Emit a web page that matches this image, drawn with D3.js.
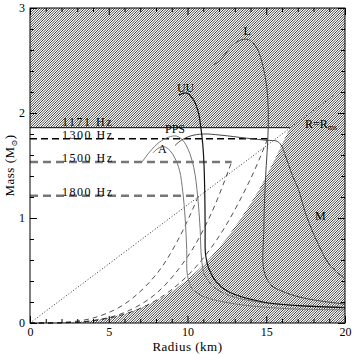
<!DOCTYPE html>
<html>
<head>
<meta charset="utf-8">
<script src="https://cdn.jsdelivr.net/npm/d3@7"></script>
<style>
body { margin: 0; background: #fff; }
svg text { font-family: "Liberation Serif", "DejaVu Serif", serif; fill: #000; }
</style>
</head>
<body>
<script>
//
// AXIS TICKS
const RADIUS_TICKS = [ 0, 5, 10, 15, 20 ];
const MASS_TICKS = [ 0, 1, 2, 3 ];
//
// SPIN FREQUENCY LIMITS (horizontal lines)
const FREQ_LABELS = [ '1171 Hz', '1300 Hz', '1500 Hz', '1800 Hz' ];
const FREQ_MASS = [ 1.86, 1.755, 1.533, 1.212 ];
const FREQ_RADIUS_END = [ 16.5, 15.09, 12.8, 10.7 ];
//
// KEPLER CURVES (radius km, mass Msun)
const KEP_1171_R = [ 0, 2, 4, 6, 8, 10, 12, 14, 15, 16.5 ];
const KEP_1171_M = [ 0, 0.003, 0.027, 0.089, 0.212, 0.414, 0.716, 1.136, 1.397, 1.86 ];
const KEP_1300_R = [ 0, 2, 4, 6, 8, 10, 12, 14, 15.09 ];
const KEP_1300_M = [ 0, 0.002, 0.022, 0.084, 0.216, 0.45, 0.824, 1.371, 1.755 ];
const KEP_1500_R = [ 0, 2, 4, 6, 8, 10, 11.5, 12.8 ];
const KEP_1500_M = [ 0, 0.002, 0.023, 0.1, 0.28, 0.63, 1.04, 1.533 ];
const KEP_1800_R = [ 0, 2, 4, 6, 8, 9.5, 10.7 ];
const KEP_1800_M = [ 0, 0.005, 0.047, 0.18, 0.46, 0.82, 1.212 ];
//
// R = R_ms LINE
const RMS_R = [ 0, 19.3 ];
const RMS_M = [ 0, 2.17 ];
//
// EQUATIONS OF STATE
const EOS_A_R = [ 7.8, 8.1, 8.5, 8.9, 9.2, 9.5, 9.7, 9.85, 9.95, 10.0, 10.3, 10.9, 12.7, 15.9, 20 ];
const EOS_A_M = [ 1.62, 1.66, 1.68, 1.64, 1.57, 1.45, 1.25, 1.0, 0.7, 0.45, 0.33, 0.26, 0.19, 0.14, 0.125 ];
const EOS_PPS_R = [ 7.1, 7.6, 8.2, 8.8, 9.3, 9.7, 10.05, 10.4, 10.65, 10.8, 10.9, 11.1, 11.7, 12.7, 15, 20 ];
const EOS_PPS_M = [ 1.53, 1.63, 1.72, 1.77, 1.78, 1.74, 1.65, 1.48, 1.2, 0.9, 0.6, 0.45, 0.34, 0.26, 0.19, 0.15 ];
const EOS_UU_R = [ 9.45, 9.95, 10.37, 10.7, 10.84, 10.97, 11.05, 11.1, 11.12, 11.15, 11.4, 11.9, 12.7, 14.8, 17, 20 ];
const EOS_UU_M = [ 2.17, 2.19, 2.13, 2.0, 1.87, 1.7, 1.5, 1.2, 0.9, 0.65, 0.5, 0.38, 0.29, 0.2, 0.165, 0.145 ];
const EOS_L_R = [ 11.64, 12.0, 12.3, 12.75, 13.3, 13.86, 14.4, 14.8, 15.03, 15.13, 15.1, 15.0, 14.9, 14.85, 14.85, 15.3, 15.9, 16.8, 18, 20 ];
const EOS_L_M = [ 2.46, 2.49, 2.54, 2.63, 2.69, 2.7, 2.62, 2.44, 2.25, 2.0, 1.75, 1.5, 1.2, 0.9, 0.5, 0.36, 0.31, 0.26, 0.22, 0.18 ];
const EOS_M_R = [ 9.2, 9.6, 10.16, 11.0, 12.06, 13.76, 15.03, 15.7, 16.0, 16.2, 16.7, 17.0, 17.6, 18.4, 19.0, 20 ];
const EOS_M_M = [ 1.69, 1.74, 1.78, 1.8, 1.79, 1.76, 1.74, 1.73, 1.68, 1.6, 1.39, 1.29, 1.0, 0.72, 0.56, 0.42 ];

window.addEventListener( 'load', function () {
    //
    // SET SIZE
    const WIDTH = 354;
    const HEIGHT = 354;
    const LEFT = 30, RIGHT = 345, TOP = 8, BOTTOM = 323;
    const HATCH_STEP = 2.5;

    const x = d3.scaleLinear().domain( [ 0, 20 ] ).range( [ LEFT, RIGHT ] );
    const y = d3.scaleLinear().domain( [ 0, 3 ] ).range( [ BOTTOM, TOP ] );

    function pts( rs, ms ) {
        return rs.map( function ( r, i ) { return [ r, ms[ i ] ]; } );
    }
    const line = d3.line()
        .x( function ( d ) { return x( d[ 0 ] ); } )
        .y( function ( d ) { return y( d[ 1 ] ); } );
    const smooth = d3.line()
        .x( function ( d ) { return x( d[ 0 ] ); } )
        .y( function ( d ) { return y( d[ 1 ] ); } )
        .curve( d3.curveCatmullRom.alpha( 0.5 ) );

    const svg = d3.select( 'body' )
        .append( 'svg' )
        .attr( 'width', WIDTH )
        .attr( 'height', HEIGHT );
    svg.append( 'defs' )
        .append( 'clipPath' )
        .attr( 'id', 'plotclip' )
        .append( 'rect' )
        .attr( 'x', LEFT ).attr( 'y', TOP )
        .attr( 'width', RIGHT - LEFT ).attr( 'height', BOTTOM - TOP );
    //
    // HATCHING: diagonal lines over the whole plot, allowed region painted white on top
    const H = BOTTOM - TOP;
    const offsets = d3.range( LEFT - H, RIGHT + HATCH_STEP, HATCH_STEP );
    svg.append( 'g' )
        .attr( 'clip-path', 'url(#plotclip)' )
        .selectAll( 'line' )
        .data( offsets )
        .enter()
        .append( 'line' )
        .attr( 'x1', function ( d ) { return d; } )
        .attr( 'y1', BOTTOM )
        .attr( 'x2', function ( d ) { return d + H; } )
        .attr( 'y2', TOP )
        .attr( 'stroke', '#222' )
        .attr( 'stroke-width', 0.85 );
    //
    // ALLOWED (WHITE) REGION
    svg.append( 'path' )
        .attr( 'd', smooth( pts( KEP_1171_R, KEP_1171_M ) ) + 'L' + x( 0 ) + ',' + y( FREQ_MASS[ 0 ] ) + 'Z' )
        .attr( 'fill', '#fff' );
    svg.append( 'path' )
        .attr( 'd', line( [ [ 0, FREQ_MASS[ 0 ] ], [ FREQ_RADIUS_END[ 0 ], FREQ_MASS[ 0 ] ] ] ) )
        .attr( 'stroke', '#000' ).attr( 'stroke-width', 1 ).attr( 'fill', 'none' );
    //
    // R = R_ms
    svg.append( 'path' )
        .attr( 'd', line( pts( RMS_R, RMS_M ) ) )
        .attr( 'stroke', '#333' ).attr( 'stroke-width', 1 )
        .attr( 'stroke-dasharray', '1,2' ).attr( 'fill', 'none' );
    //
    // KEPLER DASHED CURVES
    [ [ KEP_1300_R, KEP_1300_M ], [ KEP_1500_R, KEP_1500_M ], [ KEP_1800_R, KEP_1800_M ] ].forEach( function ( k ) {
        svg.append( 'path' )
            .attr( 'd', smooth( pts( k[ 0 ], k[ 1 ] ) ) )
            .attr( 'stroke', '#222' ).attr( 'stroke-width', 0.8 )
            .attr( 'stroke-dasharray', '5,4' ).attr( 'fill', 'none' );
    });
    //
    // FREQUENCY LINES
    const freqStyle = [ null, [ '#000', 1.5, '7,4' ], [ '#777', 2.5, '8,5' ], [ '#777', 2.5, '8,5' ] ];
    for ( let i = 1; i < FREQ_MASS.length; i++ ) {
        svg.append( 'path' )
            .attr( 'd', line( [ [ 0, FREQ_MASS[ i ] ], [ FREQ_RADIUS_END[ i ], FREQ_MASS[ i ] ] ] ) )
            .attr( 'stroke', freqStyle[ i ][ 0 ] ).attr( 'stroke-width', freqStyle[ i ][ 1 ] )
            .attr( 'stroke-dasharray', freqStyle[ i ][ 2 ] ).attr( 'fill', 'none' );
    }
    svg.selectAll( 'text.freq' )
        .data( FREQ_LABELS )
        .enter()
        .append( 'text' )
        .classed( 'freq', true )
        .attr( 'x', x( 2.03 ) )
        .attr( 'y', function ( d, i ) { return y( FREQ_MASS[ i ] ) - ( i === 0 ? 2 : 0 ); } )
        .attr( 'font-size', 12 )
        .attr( 'letter-spacing', 1.5 )
        .text( function ( d ) { return d; } );
    //
    // EOS CURVES
    const eos = [
        [ EOS_A_R, EOS_A_M, '#777', 1 ],
        [ EOS_PPS_R, EOS_PPS_M, '#777', 1 ],
        [ EOS_M_R, EOS_M_M, '#444', 1 ],
        [ EOS_L_R, EOS_L_M, '#444', 1 ],
        [ EOS_UU_R, EOS_UU_M, '#111', 1.2 ]
    ];
    eos.forEach( function ( e ) {
        svg.append( 'path' )
            .attr( 'd', smooth( pts( e[ 0 ], e[ 1 ] ) ) )
            .attr( 'stroke', e[ 2 ] ).attr( 'stroke-width', e[ 3 ] ).attr( 'fill', 'none' );
    });
    //
    // CURVE LABELS
    const labels = [ [ 'L', 13.55, 2.74 ], [ 'UU', 9.33, 2.2 ], [ 'PPS', 8.57, 1.81 ], [ 'A', 8.13, 1.62 ], [ 'M', 18.1, 0.98 ] ];
    labels.forEach( function ( l ) {
        svg.append( 'text' )
            .attr( 'x', x( l[ 1 ] ) ).attr( 'y', y( l[ 2 ] ) )
            .attr( 'font-size', 12 )
            .text( l[ 0 ] );
    });
    const rms = svg.append( 'text' )
        .attr( 'x', x( 17.46 ) ).attr( 'y', y( 1.86 ) )
        .attr( 'font-size', 12 );
    rms.append( 'tspan' ).text( 'R=R' );
    rms.append( 'tspan' ).attr( 'font-size', 8 ).attr( 'dy', 2 ).text( 'ms' );
    //
    // AXES
    function style( g ) {
        g.select( '.domain' ).remove();
        g.attr( 'font-family', '"Liberation Serif", serif' );
        g.selectAll( 'line' ).attr( 'stroke', '#000' );
        g.selectAll( 'text' ).attr( 'font-size', 12 );
    }
    const minorR = d3.range( 0, 21, 1 ).filter( function ( v ) { return v % 5 !== 0; } );
    const minorM = d3.range( 0, 3.01, 0.2 ).filter( function ( v ) { return Math.abs( v - Math.round( v ) ) > 0.01; } );
    const fmt = d3.format( 'd' );

    svg.append( 'g' ).attr( 'transform', 'translate(0,' + BOTTOM + ')' )
        .call( d3.axisBottom( x ).tickValues( RADIUS_TICKS ).tickFormat( fmt ).tickSize( -7 ).tickPadding( 4 ) ).call( style );
    svg.append( 'g' ).attr( 'transform', 'translate(0,' + BOTTOM + ')' )
        .call( d3.axisBottom( x ).tickValues( minorR ).tickSize( -4 ).tickFormat( '' ) ).call( style );
    svg.append( 'g' ).attr( 'transform', 'translate(0,' + TOP + ')' )
        .call( d3.axisTop( x ).tickValues( RADIUS_TICKS ).tickSize( -7 ).tickFormat( '' ) ).call( style );
    svg.append( 'g' ).attr( 'transform', 'translate(0,' + TOP + ')' )
        .call( d3.axisTop( x ).tickValues( minorR ).tickSize( -4 ).tickFormat( '' ) ).call( style );
    svg.append( 'g' ).attr( 'transform', 'translate(' + LEFT + ',0)' )
        .call( d3.axisLeft( y ).tickValues( MASS_TICKS ).tickFormat( fmt ).tickSize( -7 ).tickPadding( 5 ) ).call( style );
    svg.append( 'g' ).attr( 'transform', 'translate(' + LEFT + ',0)' )
        .call( d3.axisLeft( y ).tickValues( minorM ).tickSize( -4 ).tickFormat( '' ) ).call( style );
    svg.append( 'g' ).attr( 'transform', 'translate(' + RIGHT + ',0)' )
        .call( d3.axisRight( y ).tickValues( MASS_TICKS ).tickSize( -7 ).tickFormat( '' ) ).call( style );
    svg.append( 'g' ).attr( 'transform', 'translate(' + RIGHT + ',0)' )
        .call( d3.axisRight( y ).tickValues( minorM ).tickSize( -4 ).tickFormat( '' ) ).call( style );

    svg.append( 'rect' )
        .attr( 'x', LEFT ).attr( 'y', TOP )
        .attr( 'width', RIGHT - LEFT ).attr( 'height', BOTTOM - TOP )
        .attr( 'fill', 'none' ).attr( 'stroke', '#000' ).attr( 'stroke-width', 1 );
    //
    // AXIS TITLES
    svg.append( 'text' )
        .attr( 'x', ( LEFT + RIGHT ) / 2 ).attr( 'y', 351 )
        .attr( 'text-anchor', 'middle' ).attr( 'font-size', 13 ).attr( 'letter-spacing', 0.5 )
        .text( 'Radius (km)' );
    const yt = svg.append( 'text' )
        .attr( 'transform', 'translate(14,' + ( TOP + BOTTOM ) / 2 + ') rotate(-90)' )
        .attr( 'text-anchor', 'middle' ).attr( 'font-size', 13 ).attr( 'letter-spacing', 0.5 );
    yt.append( 'tspan' ).text( 'Mass (M' );
    yt.append( 'tspan' ).attr( 'font-size', 8 ).attr( 'dy', 3 ).text( '⊙' );
    yt.append( 'tspan' ).attr( 'dy', -3 ).text( ')' );
}, false );
</script>
</body>
</html>
